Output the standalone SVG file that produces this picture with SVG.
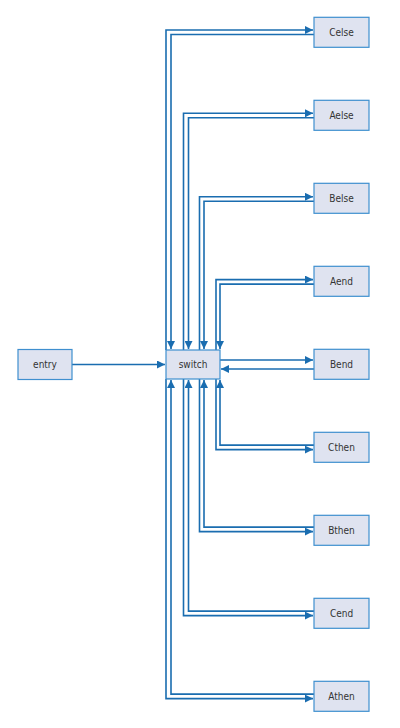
<svg xmlns="http://www.w3.org/2000/svg" width="400" height="728" viewBox="0 0 400 728">
<style>
.n rect{fill:#dfe3f0;stroke:#3f8fcf;stroke-width:1.2}
.n text{font-family:"DejaVu Sans Condensed","DejaVu Sans",sans-serif;font-stretch:condensed;font-size:10px;fill:#333;text-anchor:middle;dominant-baseline:central}
.e path{fill:none;stroke:#1a6db0;stroke-width:1.6;marker-end:url(#ah)}
</style>
<defs>
<marker id="ah" markerUnits="userSpaceOnUse" markerWidth="9" markerHeight="8" refX="8" refY="4" orient="auto">
<path d="M0,0 L8,4 L0,8 Z" fill="#1a6db0"/>
</marker>
</defs>
<rect width="400" height="728" fill="#fff"/>
<g id="edges" class="e">
<path d="M72,364.5 H165"/>
<path d="M220,360 H313"/>
<path d="M314,369 H221"/>
<path d="M166,350 V30 H313"/>
<path d="M314,34.5 H171 V349"/>
<path d="M183.5,350 V113.3 H313"/>
<path d="M314,117.8 H188.5 V349"/>
<path d="M199.5,350 V196.8 H313"/>
<path d="M314,201.3 H204 V349"/>
<path d="M216,350 V279.6 H313"/>
<path d="M314,284.1 H220 V349"/>
<path d="M216,379 V449.6 H313"/>
<path d="M314,445.1 H220 V380"/>
<path d="M199.5,379 V531.6 H313"/>
<path d="M314,527.1 H204 V380"/>
<path d="M183.5,379 V615.6 H313"/>
<path d="M314,611.1 H188.5 V380"/>
<path d="M166,379 V698.6 H313"/>
<path d="M314,694.1 H171 V380"/>
</g>
<g id="entry" class="n"><rect x="18" y="349.5" width="54" height="30"/><text x="45" y="364.5">entry</text></g>
<g id="switch" class="n"><rect x="166" y="350" width="54" height="29"/><text x="193" y="364.5">switch</text></g>
<g id="Celse" class="n"><rect x="314" y="17.3" width="55" height="30"/><text x="341.5" y="32.3">Celse</text></g>
<g id="Aelse" class="n"><rect x="314" y="100.3" width="55" height="30"/><text x="341.5" y="115.3">Aelse</text></g>
<g id="Belse" class="n"><rect x="314" y="183.3" width="55" height="30"/><text x="341.5" y="198.3">Belse</text></g>
<g id="Aend" class="n"><rect x="314" y="266.3" width="55" height="30"/><text x="341.5" y="281.3">Aend</text></g>
<g id="Bend" class="n"><rect x="314" y="349.3" width="55" height="30"/><text x="341.5" y="364.3">Bend</text></g>
<g id="Cthen" class="n"><rect x="314" y="432.3" width="55" height="30"/><text x="341.5" y="447.3">Cthen</text></g>
<g id="Bthen" class="n"><rect x="314" y="515.3" width="55" height="30"/><text x="341.5" y="530.3">Bthen</text></g>
<g id="Cend" class="n"><rect x="314" y="598.3" width="55" height="30"/><text x="341.5" y="613.3">Cend</text></g>
<g id="Athen" class="n"><rect x="314" y="681.3" width="55" height="30"/><text x="341.5" y="696.3">Athen</text></g>
</svg>
